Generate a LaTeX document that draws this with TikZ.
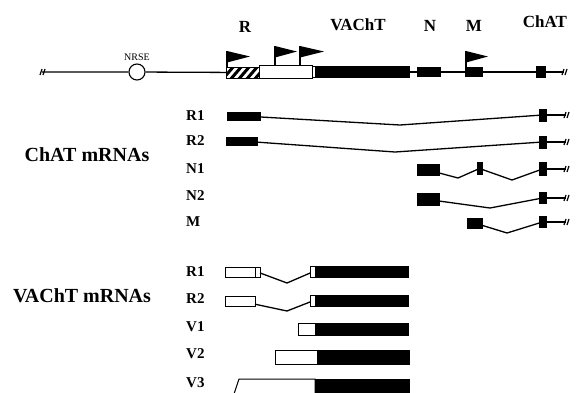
\documentclass[tikz,border=0pt]{standalone}
\usepackage{fontspec}
\setmainfont{Liberation Serif}
\tikzset{
    exon/.style={draw, fill=black, inner sep=0pt, outer sep=0pt, line width=1pt},
    leer/.style={draw, fill=white, inner sep=0pt, outer sep=0pt, line width=1pt},
    strich/.style={line width=1.3pt},
    gruppe/.style={font=\bfseries\fontsize{20}{20}\selectfont},
    gen/.style={font=\bfseries\fontsize{17}{17}\selectfont},
    zeile/.style={font=\bfseries\fontsize{15}{15}\selectfont, anchor=west, inner sep=0pt},
}
\begin{document}
\begin{tikzpicture}[x=1pt, y=-1pt]
    % Bildgroesse wie im Original (Pixel = pt, y nach unten):
    \useasboundingbox (0,0) rectangle (576,392);
    % Beschriftung oben
    \node[gen] (lr) at (245,27) {R};
    \node[gen] (lv) at (358,25) {VAChT};
    \node[gen] (ln) at (430,26) {N};
    \node[gen] (lm) at (474,26) {M};
    \node[gen] (lc) at (545,22) {ChAT};
    % Das Gen selbst
    \coordinate (glinks) at (42,72);
    \coordinate (grechts) at (564,72);
    \node[circle, draw, fill=white, line width=1.1pt, minimum size=16pt, inner sep=0pt] (nrse) at (137,72) {};
    \node[font=\fontsize{10}{10}\selectfont] (nrsetext) at (137,57) {NRSE};
    \node[leer, minimum width=33pt, minimum height=11pt] (grh) at (242.5,72.5) {};
    \node[leer, minimum width=53pt, minimum height=13pt] (grw) at (285.5,72) {};
    \node[leer, minimum width=3pt, minimum height=10.5pt] (grs) at (313.5,72) {};
    \node[exon, minimum width=94pt, minimum height=10.5pt] (gv) at (362,72) {};
    \node[exon, minimum width=23pt, minimum height=9pt] (gn) at (428.5,72) {};
    \node[exon, minimum width=17pt, minimum height=9pt] (gm) at (473.5,72) {};
    \node[exon, minimum width=9pt, minimum height=11pt] (gc) at (540.5,72) {};
    \draw[strich] (glinks) -- (nrse) -- (grh);
    \draw[strich] (gv) -- (gn) -- (gm) -- (gc) -- (grechts);
    % Die Schraffur wird in das Kaestchen geclippt:
    \begin{scope}
        \clip (grh.south west) rectangle (grh.north east);
        \foreach \x in {214,222,...,262}
            \draw[line width=3pt] (\x,80) -- ++(12,-14);
    \end{scope}
    \draw[line width=1pt] (grh.south west) rectangle (grh.north east);
    % Bruchstriche an den Enden
    \draw[line width=1.2pt] (40,75) -- (42,69) (43,75) -- (45,69);
    \draw[line width=1.2pt] (562,75) -- (564,69) (565,75) -- (567,69);
    % Die vier Promotor-Fahnen
    \foreach \x/\yb/\yo/\l in {227/67/51/23, 275/65.5/46/22, 300/65.5/46/24, 466/67.5/51/22} {
        \draw[strich] (\x,\yb) -- (\x,\yo);
        \fill (\x,\yo) -- (\x+\l,\yo+5.5) -- (\x,\yo+11.5) -- cycle;
    }

    % ChAT mRNAs
    \node[gruppe] (chatm) at (87,155) {ChAT mRNAs};
    \node[zeile] (zr1) at (186,116) {R1};
    \node[zeile] (zr2) at (186,141) {R2};
    \node[zeile] (zn1) at (186,169) {N1};
    \node[zeile] (zn2) at (186,196) {N2};
    \node[zeile] (zm) at (186,222) {M};
    \node[exon, minimum width=33pt, minimum height=8pt] (cr1a) at (243.5,116) {};
    \node[exon, minimum width=7pt, minimum height=12pt] (cr1c) at (542.5,115) {};
    \draw[strich] (cr1a) -- (400,125) -- (cr1c);
    \node[exon, minimum width=31pt, minimum height=8pt] (cr2a) at (241.5,141) {};
    \node[exon, minimum width=7pt, minimum height=12pt] (cr2c) at (542.5,142) {};
    \draw[strich] (cr2a) -- (395,152) -- (cr2c);
    \node[exon, minimum width=22pt, minimum height=11pt] (cn1a) at (428,170) {};
    \node[exon, minimum width=5pt, minimum height=12pt] (cn1b) at (479.5,168.5) {};
    \node[exon, minimum width=7pt, minimum height=13pt] (cn1c) at (542.5,169) {};
    \draw[strich] (cn1a) -- (458,178) -- (cn1b) -- (512,180) -- (cn1c);
    \node[exon, minimum width=22pt, minimum height=12pt] (cn2a) at (428,199.5) {};
    \node[exon, minimum width=7pt, minimum height=11pt] (cn2c) at (542.5,198) {};
    \draw[strich] (cn2a) -- (490,208) -- (cn2c);
    \node[exon, minimum width=15pt, minimum height=10pt] (cma) at (474.5,223) {};
    \node[exon, minimum width=7pt, minimum height=11pt] (cmc) at (542.5,222) {};
    \draw[strich] (cma) -- (507,233) -- (cmc);
    % Enden rechts mit Bruchstrichen
    \foreach \n in {cr1c,cr2c,cn1c,cn2c,cmc} {
        \draw[strich] (\n.east) -- ++(20,0) coordinate (\n e);
        \draw[line width=1.2pt] (\n e) ++(-2,3) -- ++(2,-6) ++(1,6) -- ++(2,-6);
    }

    % VAChT mRNAs
    \node[gruppe] (vachtm) at (82,296) {VAChT mRNAs};
    \node[zeile] (vzr1) at (186,272) {R1};
    \node[zeile] (vzr2) at (186,299) {R2};
    \node[zeile] (vzv1) at (186,327) {V1};
    \node[zeile] (vzv2) at (186,354) {V2};
    \node[zeile] (vzv3) at (186,383) {V3};
    \node[leer, minimum width=30pt, minimum height=10pt] (vr1a) at (240,272) {};
    \node[leer, minimum width=5pt, minimum height=10pt] (vr1b) at (257.5,272) {};
    \node[leer, minimum width=5pt, minimum height=11pt] (vr1c) at (312.5,272) {};
    \node[exon, minimum width=93pt, minimum height=11pt] (vr1d) at (361.5,272) {};
    \draw[strich] (vr1b) -- (287,283) -- (vr1c);
    \node[leer, minimum width=30pt, minimum height=10pt] (vr2a) at (240,301) {};
    \node[leer, minimum width=5pt, minimum height=11pt] (vr2c) at (312.5,301) {};
    \node[exon, minimum width=93pt, minimum height=11pt] (vr2d) at (361.5,301) {};
    \draw[strich] (vr2a) -- (287,311) -- (vr2c);
    \node[leer, minimum width=17pt, minimum height=12pt] (vv1a) at (306.5,329) {};
    \node[exon, minimum width=93pt, minimum height=12pt] (vv1b) at (361.5,329) {};
    \node[leer, minimum width=42pt, minimum height=14pt] (vv2a) at (296,357) {};
    \node[exon, minimum width=92pt, minimum height=14pt] (vv2b) at (363,357) {};
    % V3 ist unten abgeschnitten
    \draw[fill=white, line width=1pt] (234,394) -- (239,379) -- (315,379) -- (315,394);
    \node[exon, anchor=north west, minimum width=94pt, minimum height=15pt] (vv3b) at (315,379) {};
\end{tikzpicture}
\end{document}
